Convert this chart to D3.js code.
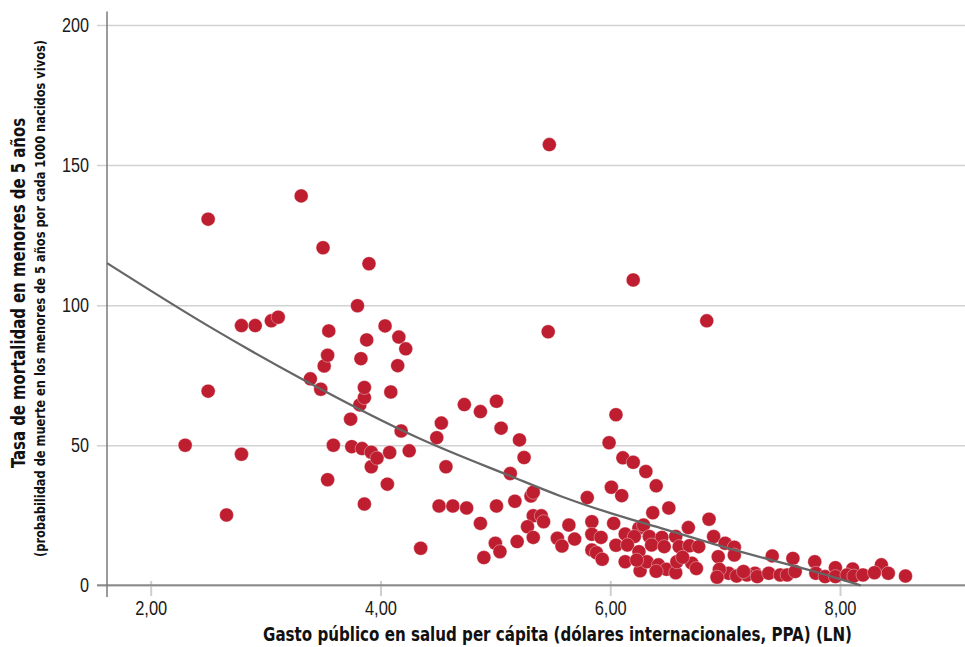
<!DOCTYPE html>
<html lang="es">
<head>
    <meta charset="utf-8">
    <title>Gasto público en salud y mortalidad en menores de 5 años</title>
    <script src="https://cdnjs.cloudflare.com/ajax/libs/d3/7.8.5/d3.min.js"></script>
<style>
    body { margin: 0; background: #fff; }
    #chart1 { width: 965px; height: 647px; }
    .chart-font { font-family: 'Liberation Sans Narrow', 'DejaVu Sans Condensed', 'Roboto Condensed', sans-serif; }
</style>
</head>
<body>
  <div id="chart1"></div>

<script>

    // gasto publico en salud per capita (LN) -- one entry per country
    const gastoLN = [
        2.30, 2.50, 2.50, 2.66, 2.79, 2.79, 2.91, 3.05, 3.11, 3.31,
        3.39, 3.48, 3.50, 3.51, 3.54, 3.55, 3.54, 3.59, 3.74, 3.75,
        3.80, 3.82, 3.86, 3.83, 3.84, 3.86, 3.86, 3.88, 3.90, 3.92,
        3.92, 3.97, 4.04, 4.06, 4.08, 4.09, 4.15, 4.16, 4.22, 4.18,
        4.25, 4.35, 4.53, 4.49, 4.57, 4.51, 4.63, 4.75, 4.73, 4.87,
        5.01, 5.05, 5.21, 5.25, 5.13, 4.87, 5.01, 5.17, 5.31, 5.33,
        5.00, 5.04, 4.90, 5.19, 5.33, 5.40, 5.42, 5.28, 5.33, 5.64,
        5.54, 5.58, 5.69, 5.80, 5.84, 5.84, 5.92, 5.84, 5.88, 5.93,
        5.47, 5.46, 6.20, 6.84, 6.05, 5.99, 6.11, 6.20, 6.31, 6.40,
        6.01, 6.10, 6.51, 6.37, 6.86, 6.68, 6.03, 6.05, 6.13, 6.25,
        6.29, 6.21, 6.34, 6.45, 6.57, 6.15, 6.25, 6.36, 6.47, 6.60,
        6.69, 6.77, 6.13, 6.26, 6.32, 6.42, 6.49, 6.57, 6.58, 6.71,
        6.23, 6.90, 7.00, 7.08, 6.94, 7.08, 6.94, 7.03, 7.15, 7.26,
        6.95, 7.41, 7.59, 7.78, 7.96, 8.11, 8.36, 8.57, 6.93, 7.10,
        7.19, 7.28, 7.38, 7.48, 7.54, 7.61, 7.79, 7.87, 7.96, 8.06,
        8.12, 8.20, 8.30, 8.42, 7.16, 6.40, 6.63, 6.75
    ]

    // tasa de mortalidad en menores de 5 anos (por 1000 nacidos vivos)
    const mortalidad = [
        50.0, 130.7, 69.3, 25.1, 46.8, 92.7, 92.7, 94.4, 95.7, 139.0,
        73.7, 70.0, 120.5, 78.3, 82.1, 90.8, 37.7, 50.0, 59.3, 49.5,
        99.8, 64.4, 67.0, 80.9, 48.8, 29.0, 70.6, 87.6, 114.8, 42.3,
        47.5, 45.4, 92.6, 36.1, 47.4, 69.0, 78.4, 88.6, 84.4, 55.1,
        48.0, 13.2, 57.9, 52.7, 42.3, 28.3, 28.3, 27.6, 64.5, 62.0,
        65.7, 56.1, 51.9, 45.6, 39.9, 22.1, 28.3, 30.0, 31.9, 33.2,
        15.0, 12.0, 9.9, 15.6, 24.8, 24.8, 22.7, 20.9, 17.1, 21.5,
        16.8, 14.0, 16.5, 31.3, 22.7, 18.2, 17.1, 12.6, 11.6, 9.3,
        157.3, 90.5, 109.0, 94.4, 60.9, 50.9, 45.5, 43.9, 40.6, 35.5,
        35.0, 32.0, 27.6, 25.9, 23.6, 20.6, 22.1, 14.3, 18.3, 20.4,
        21.5, 17.4, 17.4, 17.1, 17.4, 14.4, 12.0, 14.4, 13.8, 13.8,
        14.1, 13.8, 8.4, 5.2, 8.4, 7.3, 5.7, 4.5, 8.4, 7.9,
        9.0, 17.4, 15.0, 13.6, 10.2, 10.8, 3.7, 4.3, 4.3, 4.3,
        5.7, 10.5, 9.6, 8.4, 6.3, 5.8, 7.3, 3.3, 2.9, 3.3,
        3.7, 3.1, 4.3, 3.7, 3.7, 4.9, 4.3, 3.1, 3.1, 3.7,
        3.3, 3.7, 4.5, 4.3, 4.9, 5.0, 10.0, 6.0
    ]

    // tendencia
    const trendGasto = [1.62, 2.50, 3.30, 4.35, 5.13, 5.57, 6.18, 6.44, 7.13, 7.71, 8.18]
    const trendTasa  = [115.0, 92.6, 74.0, 52.2, 39.0, 31.8, 23.5, 20.4, 12.0, 5.7, 0.0]

    const xTicks = [2, 4, 6, 8]
    const yTicks = [0, 50, 100, 150, 200]

    const xTitle = "Gasto público en salud per cápita (dólares internacionales, PPA) (LN)"
    const yTitle = "Tasa de mortalidad en menores de 5 años"
    const ySubtitle = "(probabilidad de muerte en los menores de 5 años por cada 1000 nacidos vivos)"

    const chartApp = {}

    // the original face is a narrow one; squeeze labels to its widths
    chartApp.labelWidth = (s) => {
        var w = 0
        for (const ch of s) w += (ch === "," ? 5 : 9)
        return w
    }

    chartApp.buildChart = () => {

        d3.select('#chart1').html('')

        var width = 965,
            height = 647,
            axisLeftX = 107,   // where the vertical axis line sits
            gridStart = 97,    // ticks / gridlines start a bit left of the axis
            gridEnd = 965

        var svg = d3.select("#chart1")
            .append("svg")
            .attr("class", "chart-font")
            .attr("width", width)
            .attr("height", height)

        var x = d3.scaleLinear()
            .domain([2, 8])
            .range([150.7, 840])

        var y = d3.scaleLinear()
            .domain([0, 200])
            .range([585.3, 25])

        // horizontal gridlines + y labels
        var yAxis = d3.axisLeft(y)
            .tickValues(yTicks)
            .tickSize(-(gridEnd - gridStart))
            .tickPadding(8)
            .tickFormat(d3.format("d"))

        svg.append("g")
            .attr("class", "myYaxis")
            .attr("transform", "translate(" + gridStart + ",0)")
            .call(yAxis)
            .call(g => g.select(".domain").remove())
            .call(g => g.selectAll(".tick line")
                .attr("stroke", "#d2d2d2")
                .attr("stroke-width", 1.5))
            .call(g => g.selectAll(".tick text")
                .attr("fill", "#1a1a1a")
                .attr("textLength", function() { return chartApp.labelWidth(this.textContent) })
                .attr("lengthAdjust", "spacingAndGlyphs")
                .style("font-size", "20px"))

        // short x ticks under the axis
        var xAxis = d3.axisBottom(x)
            .tickValues(xTicks)
            .tickSize(15)
            .tickPadding(5)
            .tickFormat(d => d3.format(".2f")(d).replace(".", ","))

        svg.append("g")
            .attr("class", "myXaxis")
            .attr("transform", "translate(0,581)")
            .call(xAxis)
            .call(g => g.select(".domain").remove())
            .call(g => g.selectAll(".tick line")
                .attr("stroke", "#cfcfcf")
                .attr("stroke-width", 2))
            .call(g => g.selectAll(".tick text")
                .attr("fill", "#1a1a1a")
                .attr("textLength", function() { return chartApp.labelWidth(this.textContent) })
                .attr("lengthAdjust", "spacingAndGlyphs")
                .style("font-size", "20px"))

        // axis lines
        svg.append("line")
            .attr("x1", gridStart).attr("x2", gridEnd)
            .attr("y1", y(0)).attr("y2", y(0))
            .attr("stroke", "#8a8a8a")
            .attr("stroke-width", 2)

        svg.append("line")
            .attr("x1", axisLeftX).attr("x2", axisLeftX)
            .attr("y1", y(204.8)).attr("y2", 597)
            .attr("stroke", "#7a7a7a")
            .attr("stroke-width", 1.5)

        // the dots
        var points = gastoLN.map((g, i) => ({ gasto: g, tasa: mortalidad[i] }))

        svg.append("g")
            .selectAll("circle")
            .data(points)
            .enter()
            .append("circle")
            .attr("cx", d => x(d.gasto))
            .attr("cy", d => y(d.tasa))
            .attr("r", 7)
            .attr("fill", "#be1e2f")
            .attr("stroke", "#ffffff")
            .attr("stroke-opacity", 0.6)
            .attr("stroke-width", 0.6)

        // trend line on top of the dots
        var trend = trendGasto.map((g, i) => ({ gasto: g, tasa: trendTasa[i] }))

        svg.append("path")
            .datum(trend)
            .attr("fill", "none")
            .attr("stroke", "#666666")
            .attr("stroke-width", 2.3)
            .attr("d", d3.line()
                .x(d => x(d.gasto))
                .y(d => y(d.tasa))
                .curve(d3.curveMonotoneX))

        // titles
        svg.append("text")
            .attr("x", 557.5)
            .attr("y", 641)
            .attr("text-anchor", "middle")
            .attr("textLength", 589)
            .attr("lengthAdjust", "spacingAndGlyphs")
            .style("font-size", "19px")
            .style("font-weight", "bold")
            .attr("fill", "#111")
            .text(xTitle)

        svg.append("text")
            .attr("transform", "translate(25,293) rotate(-90)")
            .attr("text-anchor", "middle")
            .attr("textLength", 350)
            .attr("lengthAdjust", "spacingAndGlyphs")
            .style("font-size", "19px")
            .style("font-weight", "bold")
            .attr("fill", "#111")
            .text(yTitle)

        svg.append("text")
            .attr("transform", "translate(45,298.5) rotate(-90)")
            .attr("text-anchor", "middle")
            .attr("textLength", 517)
            .attr("lengthAdjust", "spacingAndGlyphs")
            .style("font-size", "14px")
            .style("font-weight", "bold")
            .attr("fill", "#111")
            .text(ySubtitle)
    }

    chartApp.init = () => {
        chartApp.buildChart()
    }
    chartApp.init()

</script>
</body>
</html>
